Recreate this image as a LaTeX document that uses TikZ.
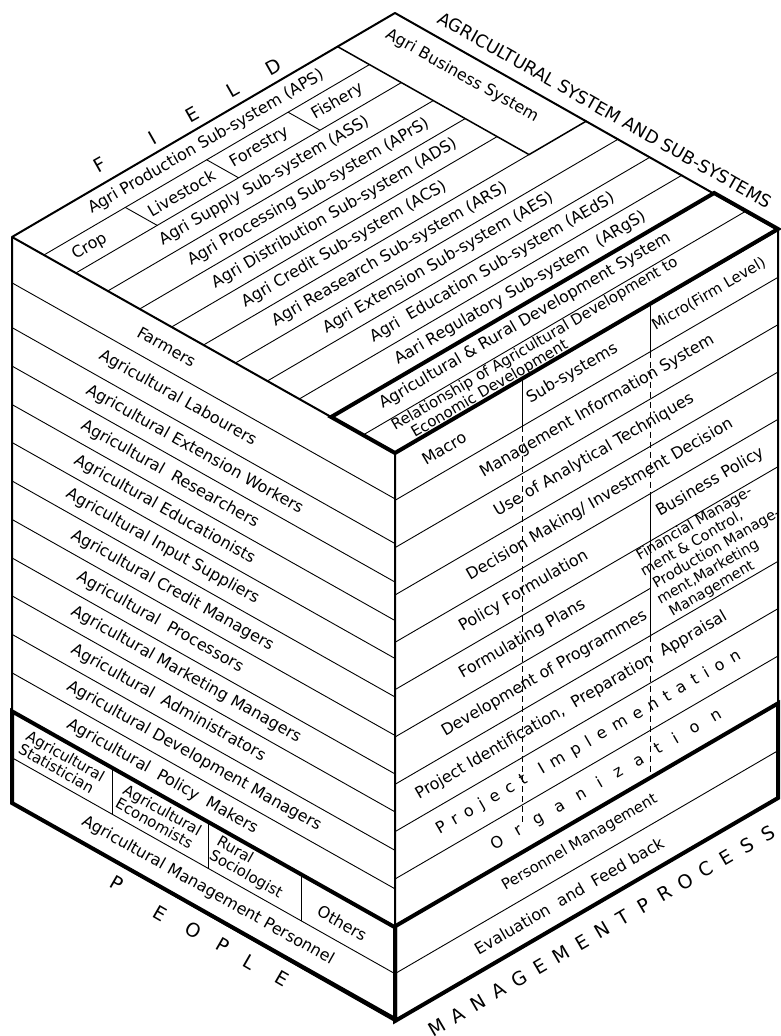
\documentclass[tikz,border=0pt]{standalone}
\usepackage{fontspec}
\setmainfont{DejaVu Sans}
\usetikzlibrary{calc}

\tikzset{
  cubeedge/.style={line width=2pt, line join=round},
  boxedge/.style={line width=4pt, line join=miter},
  bandline/.style={line width=0.9pt},
  midline/.style={line width=1.5pt},
  dashband/.style={line width=0.9pt, dash pattern=on 6pt off 4pt},
  topface/.style={shift={(12,237)}, x={(383pt,-216pt)}, y={(383pt,224pt)}},
  leftface/.style={shift={(12,237)}, x={(383pt,-216pt)}, y={(0pt,-566pt)}},
  rightface/.style={shift={(395,453)}, x={(383pt,223pt)}, y={(0pt,-568pt)}},
  lbl/.style={inner sep=0pt, font=\fontsize{16}{18}\selectfont},
  smalllbl/.style={font=\fontsize{15}{15.5}\selectfont},
  toplbl/.style={lbl, rotate=30.3},
  leftlbl/.style={lbl, rotate=-29.4},
  rightlbl/.style={lbl, rotate=30.2},
  bigletter/.style={inner sep=0pt, font=\fontsize{19}{19}\selectfont}
}

\begin{document}
\begin{tikzpicture}[x=1pt, y=-1pt]
\useasboundingbox (0,0) rectangle (780,1036);
\coordinate (L) at (12,237);
\coordinate (T) at (395,13);
\coordinate (R) at (778,230);
\coordinate (F) at (395,453);
\coordinate (LB) at (12,803);
\coordinate (FB) at (395,1021);
\coordinate (RB) at (778,798);

\begin{scope}[topface]
  \foreach \k in {1,...,6} \draw[bandline] (\k/12,0) -- (\k/12,0.85);
  \foreach \k in {7,8,9,11} \draw[bandline] (\k/12,0) -- (\k/12,1);
  \foreach \q in {0.2125,0.425,0.6375} \draw[bandline] (1/12,\q) -- (2/12,\q);
  \draw[midline] (0,0.85) -- (0.5,0.85) -- (0.5,1);
  \draw[boxedge] (10/12,0) -- (10/12,1) -- (1,1) -- (1,0) -- cycle;
  \node[toplbl, anchor=west] (aps) at (0.042,0.16) {Agri Production Sub-system (APS)};
  \node[toplbl, anchor=west] (crop) at (0.125,0.035) {Crop};
  \node[toplbl, anchor=west] (livestock) at (0.125,0.232) {Livestock};
  \node[toplbl, anchor=west] (forestry) at (0.125,0.447) {Forestry};
  \node[toplbl, anchor=west] (fishery) at (0.125,0.66) {Fishery};
  \node[toplbl, anchor=west] (ass) at (0.208,0.18) {Agri Supply Sub-system (ASS)};
  \node[toplbl, anchor=west] (aprs) at (0.292,0.17) {Agri Processing Sub-system (APrS)};
  \node[toplbl, anchor=west] (ads) at (0.375,0.15) {Agri Distribution Sub-system (ADS)};
  \node[toplbl, anchor=west] (acs) at (0.458,0.145) {Agri Credit Sub-system (ACS)};
  \node[toplbl, anchor=west] (ars) at (0.542,0.14) {Agri Reasearch Sub-system (ARS)};
  \node[toplbl, anchor=west] (aes) at (0.625,0.19) {Agri Extension Sub-system (AES)};
  \node[toplbl, anchor=west] (aeds) at (0.708,0.23) {Agri\ \ Education Sub-system (AEdS)};
  \node[toplbl, anchor=west] (args) at (0.792,0.21) {Aari Regulatory Sub-system\ \ (ARgS)};
  \node[toplbl, anchor=west] (ards) at (0.872,0.09) {Agricultural \& Rural Development System};
  \node[toplbl, anchor=west, align=left, font=\fontsize{15}{16}\selectfont] (reln) at (0.96,0.045)
    {Relationship of Agricultural Development to\\\hspace{0.9em}Economic Development};
  \node[lbl, rotate=-29.4] (abs) at (0.232,0.943) {Agri Business System};
\end{scope}

\begin{scope}[leftface]
  \foreach \u in {0.081,0.16,0.228,0.296,0.363,0.431,0.499,0.567,0.634,0.702,0.770,0.92}
    \draw[bandline] (0,\u) -- (1,\u);
  \foreach \s in {0.262,0.512,0.757} \draw[bandline] (\s,0.838) -- (\s,0.92);
  \draw[boxedge] (0,0.838) -- (1,0.838) -- (1,1) -- (0,1) -- cycle;
  \node[leftlbl, anchor=west] (farmers) at (0.33,0.040) {Farmers};
  \node[leftlbl, anchor=west] (labourers) at (0.23,0.12) {Agricultural Labourers};
  \node[leftlbl, anchor=west] (extension) at (0.196,0.194) {Agricultural Extension Workers};
  \node[leftlbl, anchor=west] (researchers) at (0.183,0.262) {Agricultural\ \ Researchers};
  \node[leftlbl, anchor=west] (educationists) at (0.165,0.33) {Agricultural Educationists};
  \node[leftlbl, anchor=west] (suppliers) at (0.144,0.397) {Agricultural Input Suppliers};
  \node[leftlbl, anchor=west] (credit) at (0.157,0.465) {Agricultural Credit Managers};
  \node[leftlbl, anchor=west] (processors) at (0.172,0.533) {Agricultural\ \ Processors};
  \node[leftlbl, anchor=west] (marketing) at (0.157,0.60) {Agricultural Marketing Managers};
  \node[leftlbl, anchor=west] (administrators) at (0.157,0.668) {Agricultural\ \ Administrators};
  \node[leftlbl, anchor=west] (devmanagers) at (0.146,0.736) {Agricultural Development Managers};
  \node[leftlbl, anchor=west] (policymakers) at (0.146,0.804) {Agricultural\ \ Policy\ \ Makers};
  \node[leftlbl, smalllbl, align=left] (statistician) at (0.13,0.879) {Agricultural\\Statistician};
  \node[leftlbl, smalllbl, align=left] (economists) at (0.383,0.878) {Agricultural\\Economists};
  \node[leftlbl, smalllbl, align=left] (sociologist) at (0.62,0.878) {Rural\\Sociologist};
  \node[leftlbl] (others) at (0.862,0.883) {Others};
  \node[leftlbl, anchor=west] (personnel) at (0.185,0.96) {Agricultural Management Personnel};
\end{scope}

\begin{scope}[rightface]
  \foreach \k in {1,2,3,4,5,7,8,9,11} \draw[bandline] (0,\k/12) -- (1,\k/12);
  \draw[bandline] (0,6/12) -- (2/3,6/12);
  \draw[bandline] (1/3,0) -- (1/3,1/12) (2/3,0) -- (2/3,1/12) (2/3,4/12) -- (2/3,7/12);
  \draw[dashband] (1/3,1/12) -- (1/3,0.78) (2/3,1/12) -- (2/3,4/12) (2/3,7/12) -- (2/3,10/12);
  \draw[boxedge] (0,10/12) -- (1,10/12) -- (1,1) -- (0,1) -- cycle;
  \node[rightlbl, anchor=west] (macro) at (0.073,0.042) {Macro};
  \node[rightlbl, anchor=west] (subsys) at (0.347,0.042) {Sub-systems};
  \node[rightlbl, anchor=west, smalllbl] (micro) at (0.674,0.042) {Micro(Firm Level)};
  \node[rightlbl, anchor=west] (mis) at (0.225,0.125) {Management Information System};
  \node[rightlbl, anchor=west] (analytic) at (0.262,0.208) {Use of Analytical Techniques};
  \node[rightlbl, anchor=west] (decision) at (0.19,0.292) {Decision Making/ Investment Decision};
  \node[rightlbl, anchor=west] (policyform) at (0.17,0.375) {Policy Formulation};
  \node[rightlbl, anchor=west] (business) at (0.685,0.375) {Business Policy};
  \node[rightlbl, anchor=west] (plans) at (0.17,0.458) {Formulating Plans};
  \node[rightlbl, anchor=west] (programmes) at (0.125,0.542) {Development of Programmes};
  \node[rightlbl, align=left, font=\fontsize{14.5}{16.3}\selectfont] (financial) at (0.835,0.498)
    {\ Financial Manage-\\ment \& Control,\\\ Production Manage-\\ment,Marketing\\\ Management};
  \node[rightlbl, anchor=west] (identification) at (0.057,0.625) {Project Identification,\ \ Preparation\ \ Appraisal};
  \node[rightlbl, anchor=west] (implementation) at (0.11,0.708)
    {\addfontfeature{LetterSpace=50}Project\hspace{1em}Implementation};
  \node[rightlbl, anchor=west] (organization) at (0.253,0.792)
    {\addfontfeature{LetterSpace=92}Organization};
  \node[rightlbl, anchor=west, smalllbl] (personnelmgmt) at (0.282,0.875) {Personnel Management};
  \node[rightlbl, anchor=west] (evaluation) at (0.21,0.958) {Evaluation\ \ and\ \ Feed back};
\end{scope}

\draw[cubeedge] (L) -- (T) -- (R) -- (RB) -- (FB) -- (LB) -- cycle;
\draw[cubeedge] (L) -- (F) -- (R) (F) -- (FB);

\node[lbl, rotate=-29.5, font=\fontsize{17.5}{18}\selectfont] (agrisys) at (605,110)
  {AGRICULTURAL SYSTEM AND SUB-SYSTEMS};
\foreach \c/\x/\y [count=\i] in {F/100/165, I/153/138, E/192/115, L/233/90, D/273/67}
  \node[bigletter, rotate=29.5] (field\i) at (\x,\y) {\c};
\foreach \c/\x/\y [count=\i] in {P/117/883, E/160/913, O/193/930, P/223/945, L/250/962, E/282/978}
  \node[bigletter, rotate=-30] (people\i) at (\x,\y) {\c};
\coordinate (mp0) at (437,1027);
\coordinate (mp1) at (768,833);
\foreach \c [count=\i] in {M,A,N,A,G,E,M,E,N,T,P,R,O,C,E,S,S}
  \node[bigletter, rotate=30.4] (mgmt\i) at ($(mp0)!{(\i-1)/16}!(mp1)$) {\c};
\end{tikzpicture}
\end{document}
